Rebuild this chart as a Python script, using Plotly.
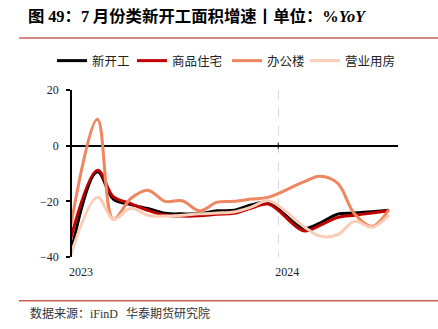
import plotly.graph_objects as go

# ---- data ----
months = ["2022-12", "2023-02", "2023-03", "2023-04", "2023-05", "2023-06", "2023-07",
          "2023-08", "2023-09", "2023-10", "2023-11", "2023-12", "2024-02", "2024-03",
          "2024-04", "2024-05", "2024-06", "2024-07"]
new_start = [-53.0, -9.4, -19.2, -21.2, -22.6, -24.3, -24.5, -24.4, -23.4, -23.2, -21.2,
             -20.4, -29.7, -27.8, -24.6, -24.2, -23.7, -23.2]
residential = [-45.0, -8.8, -18.3, -20.8, -23.2, -25.0, -25.3, -25.2, -24.6, -24.3, -22.4,
               -21.0, -30.6, -28.6, -25.8, -25.0, -24.2, -23.4]
office = [-46.0, 9.5, -26.5, -19.0, -16.0, -20.0, -19.8, -23.4, -20.3, -20.0, -19.2,
          -18.5, -13.0, -11.0, -13.5, -24.5, -29.0, -23.0]
commercial = [-49.0, -18.5, -26.5, -22.5, -25.0, -25.3, -25.0, -24.5, -24.2, -23.8, -22.0,
              -19.8, -29.0, -32.5, -32.0, -27.2, -29.3, -25.0]

series_names = ["新开工", "商品住宅", "办公楼", "营业用房"]
year_ticks = ["2023-01-01", "2024-01-01"]
year_labels = ["2023", "2024"]
y_ticks = [20, 0, -20, -40]

dates = [m + "-15" for m in months]
colors = ["#000000", "#C00000", "#EE8660", "#FBCDB6"]

W, H = 438, 329
L, R, T, B = 72, 40, 90, 72
pw, ph = W - L - R, H - T - B


def px_x(px):
    return (px - L) / pw


def px_y(py):
    return (H - B - py) / ph


serif = "Liberation Serif, Times New Roman, serif"
cjk = "Noto Sans CJK SC, sans-serif"

legend_ids = ["legend", "legend2", "legend3", "legend4"]
legend_left = [57, 137, 232, 310]

fig = go.Figure()
for name, vals, col, lid in zip(series_names, [new_start, residential, office, commercial],
                                colors, legend_ids):
    fig.add_trace(go.Scatter(x=dates, y=vals, name=name, mode="lines", legend=lid,
                             line=dict(color=col, width=3, shape="spline", smoothing=1)))

legend_layout = {}
for lid, lx in zip(legend_ids, legend_left):
    legend_layout[lid] = dict(orientation="h", xref="container", yref="container",
                              x=(lx - 5) / W, xanchor="left", y=1 - 61 / H, yanchor="middle",
                              font=dict(family=cjk, size=12.5, color="#222"),
                              bgcolor="rgba(0,0,0,0)", itemwidth=30)

fig.update_layout(
    width=W, height=H,
    margin=dict(l=L, r=R, t=T, b=B, autoexpand=False),
    paper_bgcolor="white", plot_bgcolor="white",
    showlegend=True,
    title=dict(
        text="<b>图 <span style='font-family:Liberation Serif'>49</span>：<span style='font-family:Liberation Serif'>7</span> 月份类新开工面积增速丨单位：<span style='font-family:Liberation Serif'>%<i>YoY</i></span></b>",
        x=28 / W, xanchor="left", xref="container",
        y=1 - 16 / H, yanchor="middle", yref="container",
        font=dict(family=cjk, size=16.4, color="#000")),
    xaxis=dict(type="date", range=["2023-01-01", "2024-07-31"],
               tickvals=year_ticks, ticktext=year_labels,
               showgrid=True, gridcolor="#D9D9D9", griddash="dash", gridwidth=1,
               showline=False, zeroline=False, ticks="",
               ticklabelshift=9, ticklabelstandoff=6,
               tickfont=dict(family=serif, size=12, color="#222")),
    yaxis=dict(range=[-40, 20], tickvals=y_ticks,
               showgrid=False, showline=True, linecolor="#000", linewidth=1.5,
               ticks="outside", ticklen=4, tickwidth=1.5, tickcolor="#000",
               ticklabelstandoff=5,
               zeroline=True, zerolinecolor="#000", zerolinewidth=1.5,
               tickfont=dict(family=serif, size=12, color="#222")),
    shapes=[
        dict(type="line", xref="paper", yref="paper", x0=px_x(19), x1=px_x(438),
             y0=px_y(38), y1=px_y(38), line=dict(color="#C8605A", width=1.5)),
        dict(type="line", xref="paper", yref="paper", x0=px_x(19), x1=px_x(438),
             y0=px_y(300.7), y1=px_y(300.7), line=dict(color="#C8605A", width=1.5)),
        dict(type="line", xref="x", yref="y", x0="2024-01-01", x1="2024-01-01",
             ysizemode="pixel", yanchor=0, y0=-3, y1=3, line=dict(color="#000", width=1)),
    ],
    annotations=[
        dict(text="数据来源：<span style='font-family:Liberation Serif'>iFinD</span>   华泰期货研究院",
             xref="paper", yref="paper", x=px_x(28), y=px_y(312), xanchor="left", yanchor="middle",
             showarrow=False, font=dict(family=cjk, size=12, color="#333")),
    ],
    **legend_layout,
)

fig.write_html("out.html")
